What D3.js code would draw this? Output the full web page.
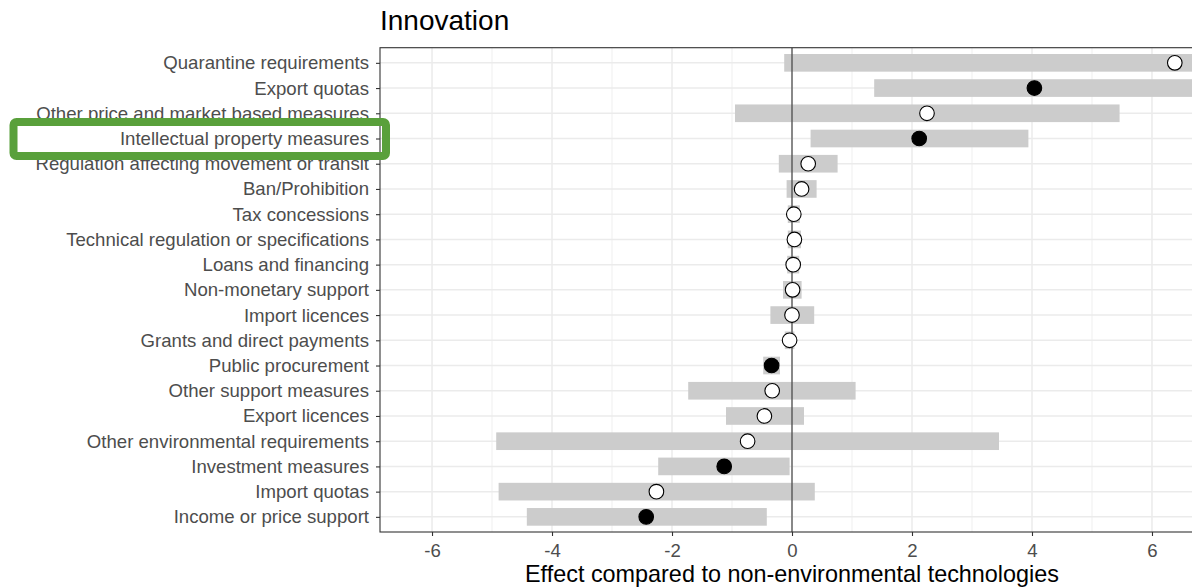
<!DOCTYPE html>
<html><head><meta charset="utf-8">
<script src="https://cdn.jsdelivr.net/npm/d3@7"></script>
<style>
html,body{margin:0;padding:0;background:#fff;}
svg{display:block;font-family:"Liberation Sans",Arial,sans-serif;}
</style></head>
<body>
<svg id="chart" width="1192" height="587"></svg>
<script>
const categories = ["Quarantine requirements","Export quotas","Other price and market based measures","Intellectual property measures","Regulation affecting movement or transit","Ban/Prohibition","Tax concessions","Technical regulation or specifications","Loans and financing","Non-monetary support","Import licences","Grants and direct payments","Public procurement","Other support measures","Export licences","Other environmental requirements","Investment measures","Import quotas","Income or price support"];
const estimate = [6.38,4.04,2.25,2.12,0.27,0.16,0.03,0.04,0.02,0.01,0.0,-0.04,-0.34,-0.33,-0.46,-0.74,-1.13,-2.26,-2.43];
const lower = [-0.13,1.37,-0.95,0.31,-0.22,-0.09,-0.07,-0.07,-0.08,-0.15,-0.36,-0.12,-0.48,-1.73,-1.1,-4.93,-2.23,-4.89,-4.42];
const upper = [7.4,7.0,5.46,3.94,0.76,0.41,0.13,0.15,0.12,0.16,0.37,0.04,-0.2,1.06,0.2,3.45,-0.04,0.38,-0.42];
const significant = [false,true,false,true,false,false,false,false,false,false,false,false,true,false,false,false,true,false,true];
const xTicks = [-6,-4,-2,0,2,4,6];
const xMinor = [-5,-3,-1,1,3,5];
const title = "Innovation";
const xTitle = "Effect compared to non-environmental technologies";
const highlighted = "Intellectual property measures";

const rows = categories.map((c,i)=>({cat:c, est:estimate[i], lo:lower[i], hi:upper[i], sig:significant[i]}));

const svg = d3.select("#chart");
const P = {left:380, right:1204, top:47.7, bottom:532};
const x = d3.scaleLinear().domain([-6.867, 6.867]).range([P.left, P.right]);
const y = d3.scalePoint().domain(categories).range([P.top, P.bottom]).padding(0.6);
const step = y.step();

svg.append("defs").append("clipPath").attr("id","clip")
  .append("rect").attr("x",P.left).attr("y",P.top).attr("width",P.right-P.left).attr("height",P.bottom-P.top);

const g = svg.append("g").attr("clip-path","url(#clip)");
g.selectAll(".minor").data(xMinor).join("line")
  .attr("x1",d=>x(d)).attr("x2",d=>x(d)).attr("y1",P.top).attr("y2",P.bottom)
  .attr("stroke","#ebebeb").attr("stroke-width",0.8);
g.selectAll(".majx").data(xTicks).join("line")
  .attr("x1",d=>x(d)).attr("x2",d=>x(d)).attr("y1",P.top).attr("y2",P.bottom)
  .attr("stroke","#ebebeb").attr("stroke-width",1.5);
g.selectAll(".majy").data(categories).join("line")
  .attr("x1",P.left).attr("x2",P.right).attr("y1",d=>y(d)).attr("y2",d=>y(d))
  .attr("stroke","#ebebeb").attr("stroke-width",1.5);
g.selectAll(".bar").data(rows).join("rect")
  .attr("x",d=>x(d.lo)).attr("width",d=>x(d.hi)-x(d.lo))
  .attr("y",d=>y(d.cat)-step*0.35).attr("height",step*0.7)
  .attr("fill","#cccccc");
g.append("line").attr("x1",x(0)).attr("x2",x(0)).attr("y1",P.top).attr("y2",P.bottom)
  .attr("stroke","#333333").attr("stroke-width",1.1);
g.selectAll(".pt").data(rows).join("circle")
  .attr("cx",d=>x(d.est)).attr("cy",d=>y(d.cat)).attr("r",7.3)
  .attr("fill",d=>d.sig?"#000":"#fff").attr("stroke","#000").attr("stroke-width",1.1);
svg.append("rect").attr("x",P.left).attr("y",P.top).attr("width",P.right-P.left).attr("height",P.bottom-P.top)
  .attr("fill","none").attr("stroke","#333333").attr("stroke-width",1.1);

const ya = svg.append("g").attr("transform",`translate(${P.left},0)`)
  .call(d3.axisLeft(y).tickSize(4).tickPadding(7).tickSizeOuter(0));
ya.select(".domain").remove();
ya.selectAll("line").attr("stroke","#333333").attr("stroke-width",1.1);
ya.selectAll("text").attr("fill","#4d4d4d").style("font-size","18.6px").attr("font-family","Liberation Sans, Arial, sans-serif");

const xa = svg.append("g").attr("transform",`translate(0,${P.bottom})`)
  .call(d3.axisBottom(x).tickValues(xTicks).tickSize(4).tickPadding(8).tickSizeOuter(0).tickFormat(d3.format("d")));
xa.select(".domain").remove();
xa.selectAll("line").attr("stroke","#333333").attr("stroke-width",1.1);
xa.selectAll("text").attr("fill","#4d4d4d").style("font-size","18.6px").attr("font-family","Liberation Sans, Arial, sans-serif")
  .text(d=>d<0?"-"+Math.abs(d):d);

svg.append("text").attr("x",(P.left+P.right)/2).attr("y",582).attr("text-anchor","middle")
  .style("font-size","23.4px").attr("fill","#000").text(xTitle);
svg.append("text").attr("x",P.left).attr("y",30).style("font-size","28px").attr("fill","#000").text(title);

const hy = y(highlighted);
svg.append("rect").attr("x",13.5).attr("y",hy-16.5).attr("width",372.5).attr("height",34)
  .attr("rx",3).attr("fill","none").attr("stroke","#59a03b").attr("stroke-width",8);
</script>
</body></html>
